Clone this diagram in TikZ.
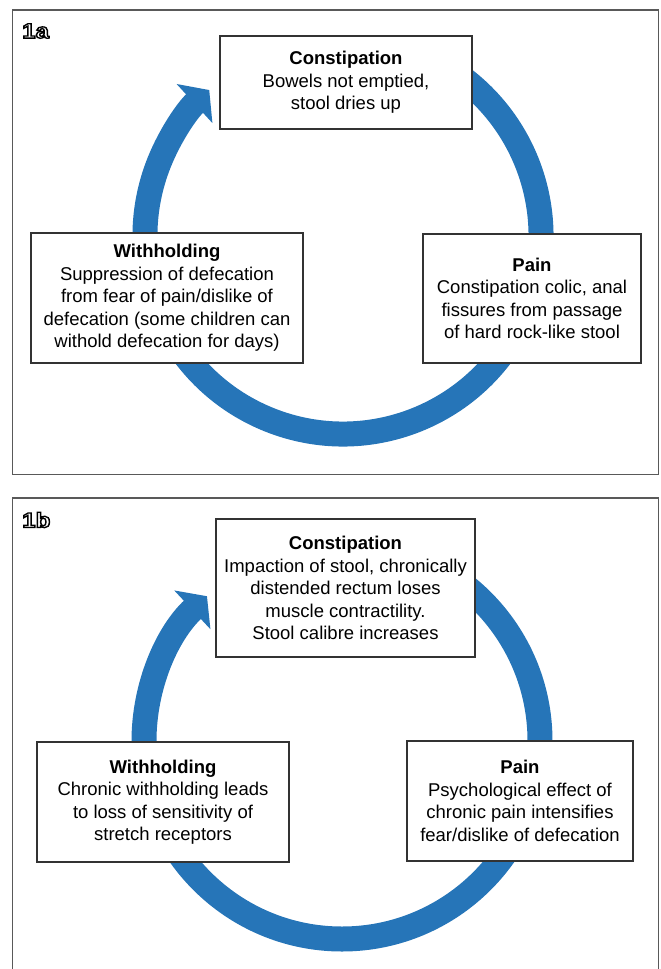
\documentclass[tikz,border=0pt]{standalone}
\usepackage{fontspec}
\setmainfont{Liberation Sans}
\usetikzlibrary{arrows.meta}

\definecolor{cycleblue}{RGB}{38,117,184}

% white letters with a black outline
\newcommand\outlined[1]{{\color{white}\special{pdf:literal 2 Tr 1.3 w 0 G}#1\special{pdf:literal 0 Tr}}}

\tikzset{
  stage/.style={draw=black!80, line width=1.2pt, fill=white, align=center,
    inner sep=0pt, font=\fontsize{18.5}{22.5}\selectfont},
  cycle/.style={cycleblue, line width=25pt, -{Triangle[width=52pt,length=20pt]}},
  panel/.style={draw=black!65, line width=1.3pt},
  tag/.style={font=\fontsize{21}{21}\selectfont\bfseries, inner sep=0pt, anchor=west, xscale=1.15}
}

\begin{document}
\begin{tikzpicture}[x=1pt, y=1pt]

            \useasboundingbox (0,0) rectangle (661,-969);

            % Panel frames
            \draw[panel] (12.5,-10) rectangle (658.5,-474.5);
            \draw[panel] (12.5,-498) rectangle (658.5,-985);

            % Panel tags
            \node[tag] (tagA) at (22,-31) {\outlined{1a}};
            \node[tag] (tagB) at (22,-520) {\outlined{1b}};

            % Cycle centres
            \coordinate (ctrA) at (343,-236);
            \coordinate (ctrB) at (342,-741);

            % Cycle arrows
            \draw[cycle] (ctrA) ++(68:198) arc[start angle=68, end angle=-227.5, radius=198];
            \draw[cycle] (ctrB) ++(90:198) arc[start angle=90, end angle=-227, radius=198];

            % Panel 1a
            \node[stage, minimum width=252pt, minimum height=93pt] (conA) at (346,-82.5)
              {\textbf{Constipation}\\Bowels not emptied,\\stool dries up};
            \node[stage, minimum width=218pt, minimum height=129pt] (painA) at (532,-298.5)
              {\textbf{Pain}\\Constipation colic, anal\\fissures from passage\\of hard rock-like stool};
            \node[stage, minimum width=272pt, minimum height=130pt] (withA) at (167,-298)
              {\textbf{Withholding}\\Suppression of defecation\\from fear of pain/dislike of\\defecation (some children can\\withold defecation for days)};

            % Panel 1b
            \node[stage, minimum width=259pt, minimum height=138pt] (conB) at (345.5,-588)
              {\textbf{Constipation}\\Impaction of stool, chronically\\distended rectum loses\\muscle contractility.\\Stool calibre increases};
            \node[stage, minimum width=226pt, minimum height=120pt] (painB) at (520,-801)
              {\textbf{Pain}\\Psychological effect of\\chronic pain intensifies\\fear/dislike of defecation};
            \node[stage, minimum width=252pt, minimum height=120pt] (withB) at (163,-802)
              {\textbf{Withholding}\\Chronic withholding leads\\to loss of sensitivity of\\stretch receptors};

\end{tikzpicture}
\end{document}
